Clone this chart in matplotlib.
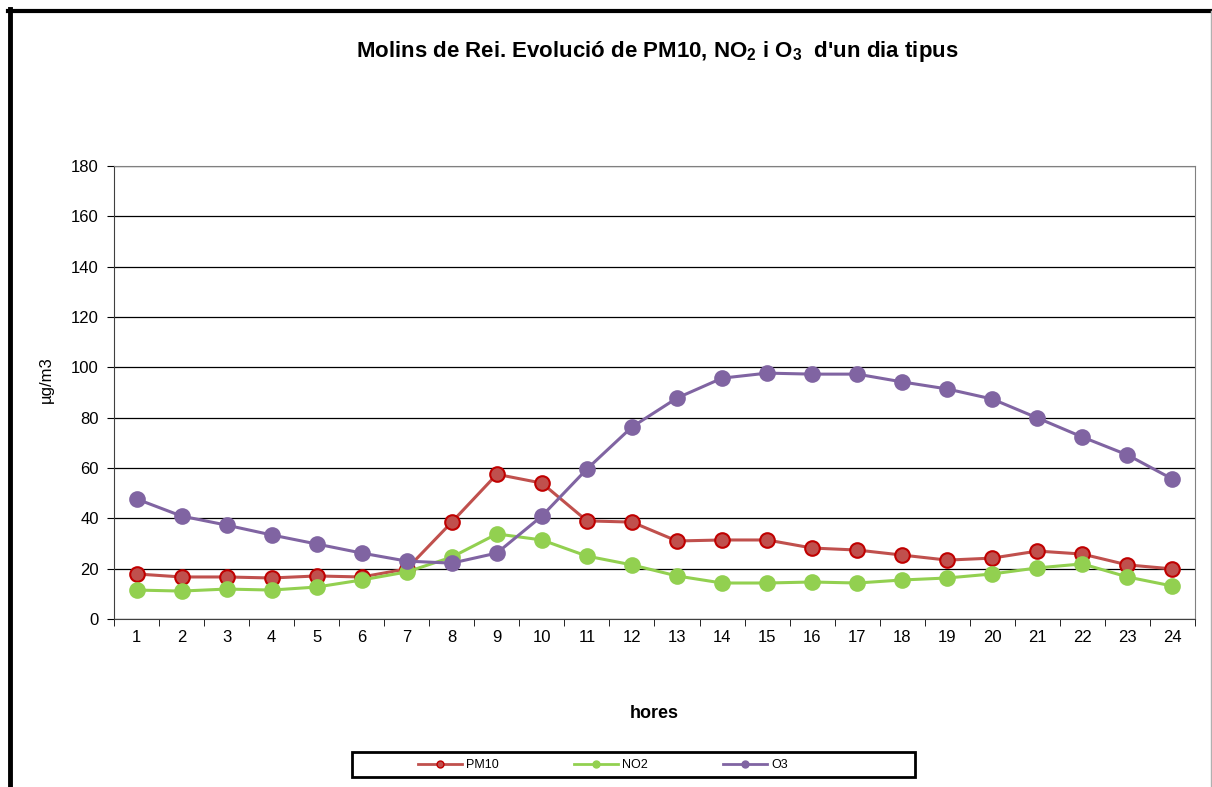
import matplotlib
matplotlib.use("Agg")
import matplotlib.pyplot as plt
from matplotlib.lines import Line2D
from matplotlib.patches import Rectangle

hours = list(range(1, 25))
pm10 = [17.9, 16.7, 16.7, 16.3, 17.1, 16.7, 19.9, 38.5, 57.5, 54.0, 39.0, 38.5,
        31.0, 31.4, 31.4, 28.2, 27.4, 25.4, 23.4, 24.2, 27.0, 25.8, 21.5, 19.9]
no2 = [11.5, 11.1, 11.9, 11.5, 12.7, 15.5, 18.7, 24.6, 33.8, 31.4, 25.0, 21.5,
       17.1, 14.3, 14.3, 14.7, 14.3, 15.5, 16.3, 17.9, 20.3, 21.9, 16.7, 13.1]
o3 = [47.7, 40.9, 37.3, 33.4, 29.8, 26.2, 23.0, 22.2, 26.2, 40.9, 59.6, 76.3,
      87.8, 95.7, 97.7, 97.3, 97.3, 94.2, 91.4, 87.4, 79.9, 72.3, 65.2, 55.6]
yticks = list(range(0, 181, 20))

plt.rcParams['font.family'] = ['Liberation Sans', 'DejaVu Sans']
plt.rcParams['mathtext.fontset'] = 'custom'
plt.rcParams['mathtext.bf'] = 'Liberation Sans:bold'
plt.rcParams['mathtext.rm'] = 'Liberation Sans'

W, H = 1212, 787
fig = plt.figure(figsize=(W / 100, H / 100), dpi=100)
ax = fig.add_axes([114 / W, 1 - 619 / H, (1195 - 114) / W, (619 - 166) / H])

series = [
    ("PM10", pm10, "#C0504D", "#C00000"),
    ("NO2", no2, "#92D050", "#92D050"),
    ("O3", o3, "#8064A2", "#8064A2"),
]
for name, vals, col, ec in series:
    ax.plot(hours, vals, color=col, lw=2.2, marker='o', ms=10.5,
            mfc=col, mec=ec, mew=1.5, zorder=3)

ax.set_xlim(0.5, 24.5)
ax.set_ylim(0, 180)
ax.set_yticks(yticks)
ax.set_xticks(hours)
ax.set_xticks([h + 0.5 for h in range(0, 25)], minor=True)
ax.tick_params(axis='x', which='major', length=0, labelsize=12, pad=8)
ax.tick_params(axis='x', which='minor', length=5, direction='out', color='black')
ax.tick_params(axis='y', length=5, direction='out', labelsize=12, pad=6)
ax.grid(axis='y', color='black', lw=0.9)
ax.set_axisbelow(True)
for s in ['top', 'right']:
    ax.spines[s].set_color('#808080')
for s in ['left', 'bottom']:
    ax.spines[s].set_color('#404040')

ax.set_ylabel('µg/m3', fontsize=12)
ax.yaxis.set_label_coords(-0.0555, 0.528)
ax.set_xlabel('hores', fontsize=13, fontweight='bold', labelpad=43)

fig.text(657 / W, 1 - 52 / H,
         r"Molins de Rei. Evolució de PM10, NO$\mathbf{_2}$ i O$\mathbf{_3}$  d'un dia tipus",
         ha='center', va='center', fontsize=16, fontweight='bold')

# outer frame: thick top/left, thin gray right
fig.add_artist(Line2D([8 / W, 1212 / W], [1 - 11 / H, 1 - 11 / H],
                      transform=fig.transFigure, color='black', lw=3))
fig.add_artist(Line2D([9.5 / W, 9.5 / W], [0, 1 - 9 / H],
                      transform=fig.transFigure, color='black', lw=3.5))
fig.add_artist(Line2D([1210.5 / W, 1210.5 / W], [0, 1 - 11 / H],
                      transform=fig.transFigure, color='#b0b0b0', lw=1))
# legend box
fig.patches.append(Rectangle((352 / W, 1 - 777 / H), (915 - 352) / W, 25 / H,
                             transform=fig.transFigure, fill=False,
                             edgecolor='black', lw=2))
handles = [Line2D([0], [0], color=c, lw=2, marker='o', ms=5, mfc=c, mec=ec)
           for _, _, c, ec in series]
fig.legend(handles, [s[0] for s in series], loc='center',
           bbox_to_anchor=(603 / W, 1 - 765 / H), ncol=3, frameon=False,
           fontsize=9, handlelength=3.5, columnspacing=6, handletextpad=0.35)

fig.savefig('out.png', dpi=100)
